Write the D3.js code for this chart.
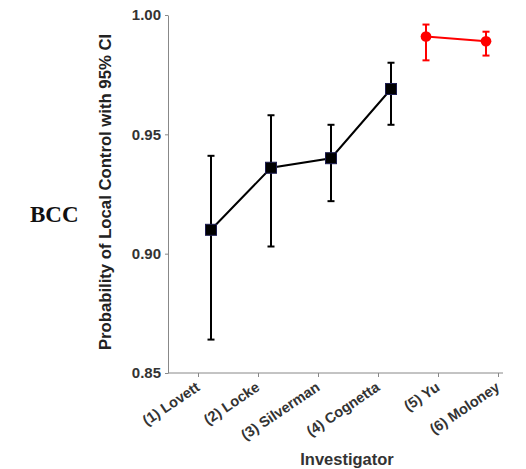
<!DOCTYPE html>
<html>
<head>
<meta charset="utf-8">
<script src="https://cdn.jsdelivr.net/npm/d3@7"></script>
<style>
  html, body { margin: 0; padding: 0; background: #fff; }
  svg { display: block; }
</style>
</head>
<body>
<svg id="chart" width="526" height="469"></svg>
<script>
// Investigators, in plotting order
const investigators = ["(1) Lovett", "(2) Locke", "(3) Silverman", "(4) Cognetta", "(5) Yu", "(6) Moloney"];

// Earlier series (black squares)
const seriesA = ["(1) Lovett", "(2) Locke", "(3) Silverman", "(4) Cognetta"];
const seriesAValue = [0.910, 0.936, 0.940, 0.969];
const seriesALow   = [0.864, 0.903, 0.922, 0.954];
const seriesAHigh  = [0.941, 0.958, 0.954, 0.980];

// Later series (red markers)
const seriesB = ["(5) Yu", "(6) Moloney"];
const seriesBValue = [0.991, 0.989];
const seriesBLow   = [0.981, 0.983];
const seriesBHigh  = [0.996, 0.993];

const yTicks = [0.85, 0.90, 0.95, 1.00];

const svg = d3.select("#chart");
const sans = "Arial, 'Liberation Sans', sans-serif";

const x = d3.scalePoint().domain(investigators).range([198, 498]);
const y = d3.scaleLinear().domain([0.85, 1.00]).range([373, 15]);
const axisX0 = 168, axisX1 = 503;

// Y axis
const yAxis = d3.axisLeft(y).tickValues(yTicks).tickFormat(d3.format(".2f")).tickSize(3).tickSizeOuter(0);
const gy = svg.append("g").attr("transform", `translate(${axisX0},0)`).call(yAxis);
gy.select(".domain").attr("stroke", "#888").attr("stroke-width", 1);
gy.selectAll(".tick line").attr("stroke", "#888");
gy.selectAll(".tick text")
  .attr("font-family", sans)
  .attr("font-weight", "bold").attr("font-size", 15).attr("fill", "#333")
  .attr("x", -7);

// X axis
const xAxis = d3.axisBottom(x).tickSize(4).tickSizeOuter(0).tickFormat("");
const gx = svg.append("g").attr("transform", `translate(0,${y(0.85)})`).call(xAxis);
gx.select(".domain").remove();
gx.selectAll(".tick line").attr("stroke", "#888");
gx.append("line").attr("x1", axisX0).attr("x2", axisX1).attr("y1", 0).attr("y2", 0)
  .attr("stroke", "#888").attr("stroke-width", 1);

// Rotated category labels
svg.append("g").selectAll("text").data(investigators).join("text")
  .attr("transform", d => `translate(${x(d) - 3},${y(0.85) + 8}) rotate(-34)`)
  .attr("text-anchor", "end")
  .attr("dy", "0.71em")
  .attr("font-family", sans)
  .attr("font-weight", "bold").attr("font-size", 14.5).attr("fill", "#333")
  .text(d => d);

// Axis titles
svg.append("text")
  .attr("transform", `translate(111,192) rotate(-90)`)
  .attr("text-anchor", "middle")
  .attr("font-family", sans)
  .attr("font-weight", "bold").attr("font-size", 16.7).attr("fill", "#222")
  .text("Probability of Local Control with 95% CI");

svg.append("text")
  .attr("x", 347).attr("y", 465)
  .attr("text-anchor", "middle")
  .attr("font-family", sans)
  .attr("font-weight", "bold").attr("font-size", 16.5).attr("fill", "#333")
  .text("Investigator");

svg.append("text")
  .attr("x", 30).attr("y", 222)
  .attr("font-family", "'Times New Roman', 'Liberation Serif', serif")
  .attr("font-weight", "bold").attr("font-size", 23).attr("fill", "#111")
  .text("BCC");

// Draw one series: connecting line, error bars with caps, markers
function drawSeries(cats, vals, lows, highs, color, dodge, marker) {
  const pts = cats.map((c, i) => ({ c, v: vals[i], lo: lows[i], hi: highs[i] }));
  const px = d => x(d.c) + dodge;
  const g = svg.append("g");
  g.append("path").datum(pts)
    .attr("fill", "none").attr("stroke", color).attr("stroke-width", 2)
    .attr("d", d3.line().x(px).y(d => y(d.v)));
  const eb = g.selectAll("g.eb").data(pts).join("g").attr("class", "eb");
  eb.append("line").attr("x1", px).attr("x2", px)
    .attr("y1", d => y(d.lo)).attr("y2", d => y(d.hi))
    .attr("stroke", color).attr("stroke-width", 2);
  [d => d.lo, d => d.hi].forEach(acc => {
    eb.append("line").attr("x1", d => px(d) - 3.5).attr("x2", d => px(d) + 3.5)
      .attr("y1", d => y(acc(d))).attr("y2", d => y(acc(d)))
      .attr("stroke", color).attr("stroke-width", 2);
  });
  if (marker === "square") {
    g.selectAll("rect").data(pts).join("rect")
      .attr("x", d => px(d) - 5.5).attr("y", d => y(d.v) - 5.5)
      .attr("width", 11).attr("height", 11)
      .attr("fill", "#000").attr("stroke", "#1c1c50").attr("stroke-width", 1);
  } else {
    g.selectAll("path.mk").data(pts).join("path").attr("class", "mk")
      .attr("transform", d => `translate(${px(d)},${y(d.v)})`)
      .attr("d", d3.symbol(d3.symbolCircle, 90)())
      .attr("fill", color);
  }
}

drawSeries(seriesA, seriesAValue, seriesALow, seriesAHigh, "#000", 13, "square");
drawSeries(seriesB, seriesBValue, seriesBLow, seriesBHigh, "#ff0000", -12, "circle");
</script>
</body>
</html>
